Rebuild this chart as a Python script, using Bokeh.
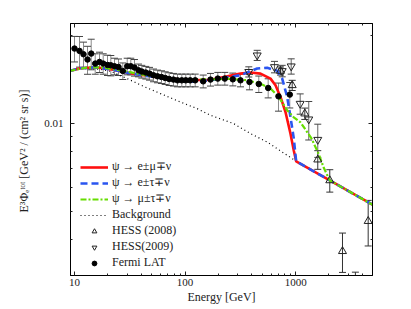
from bokeh.plotting import figure
from bokeh.models import (FixedTicker, LogAxis, Whisker, TeeHead, ColumnDataSource,
                          Legend, LegendItem, BasicTickFormatter)
from bokeh.embed import file_html
from bokeh.resources import INLINE

# ---------------- data ----------------
fermi_E = [10.0, 11.1, 12.06, 13.11, 14.16, 15.39, 16.83, 18.18, 19.88, 21.29, 23.0, 25.0,
           27.33, 29.96, 32.28, 34.86, 37.91, 40.6, 44.13, 47.66, 51.8, 56.3, 61.2, 66.1,
           71.8, 78.5, 85.4, 93.4, 101.5, 111.2, 123.4, 145.8, 169.7, 197.6, 228.6, 270.0,
           316.9, 382.2, 463.8, 564.1, 699.1, 884.6]
fermi_F = [0.01798, 0.01765, 0.01719, 0.01649, 0.01728, 0.01597, 0.01618, 0.01597, 0.01580,
           0.01576, 0.01564, 0.01555, 0.01507, 0.01564, 0.01564, 0.01548, 0.01515, 0.01500,
           0.01488, 0.01476, 0.01457, 0.01445, 0.01437, 0.01426, 0.01415, 0.01408, 0.01400,
           0.01400, 0.01400, 0.01400, 0.01400, 0.01389, 0.01408, 0.01419, 0.01419, 0.01411,
           0.01400, 0.01382, 0.01360, 0.01318, 0.01234, 0.01251]
fermi_err = [0.00180, 0.00212, 0.00172, 0.00181, 0.00207, 0.00128, 0.00129, 0.00128, 0.00126,
             0.00126, 0.00102, 0.00101, 0.00098, 0.00102, 0.00102, 0.00101, 0.00076, 0.00075,
             0.00074, 0.00074, 0.00073, 0.00072, 0.00072, 0.00071, 0.00071, 0.00070, 0.00070,
             0.00070, 0.00070, 0.00070, 0.00070, 0.00070, 0.00070, 0.00071, 0.00071, 0.00071,
             0.00070, 0.00083, 0.00088, 0.00099, 0.00136, 0.00125]

hess08_E = [728.8, 929.8, 1209, 1584, 2034, 2650, 3467, 4524]
hess08_F = [0.01507, 0.01346, 0.01077, 0.007495, 0.006364, 0.003644, 0.0022, 0.004618]
hess08_err = [0.00048, 0.00054, 0.00048, 0.00055, 0.00056, 0.00056, 0.00089, 0.00082]

hess09_E = [376.7, 448.7, 643.3, 755.1, 910.7, 1098, 1313, 1584]
hess09_F = [0.01497, 0.01705, 0.01555, 0.01507, 0.01564, 0.01165, 0.0103, 0.00877]
hess09_err = [0.0006, 0.00068, 0.0007, 0.00068, 0.00094, 0.00093, 0.00155, 0.00114]

bg_E = [9.0, 11.33, 13.95, 17.18, 21.16, 29.96, 42.06, 59.93, 87.2, 128.7, 169.7, 275.6,
        390.2, 552.5, 1010, 2034, 5000]
bg_F = [0.01503, 0.01533, 0.01536, 0.01527, 0.01503, 0.01419, 0.01335, 0.01261, 0.01187,
        0.0112, 0.01063, 0.00995, 0.0092, 0.00861, 0.0074, 0.006364, 0.005246]

emu_E = [9.0, 11.33, 15.48, 21.16, 32.08, 59.93, 111.9, 169.7, 223.9, 316.9, 390.2, 480.6,
         591.7, 656.9, 728.8, 808.8, 897.5, 961, 1010, 2034, 5000]
emu_F = [0.01507, 0.01539, 0.01551, 0.01527, 0.0148, 0.01428, 0.0140, 0.01406, 0.01437,
         0.01476, 0.01488, 0.01476, 0.01419, 0.01346, 0.01228, 0.01091, 0.0092, 0.00806,
         0.0074, 0.006364, 0.005246]

etau_E = [9.0, 11.33, 15.48, 21.16, 32.08, 59.93, 111.9, 169.7, 257.4, 316.9, 448.7, 552.5,
          680.1, 755.1, 837.6, 897.5, 961, 1010, 2034, 5000]
etau_F = [0.01507, 0.01539, 0.01551, 0.01527, 0.0148, 0.01425, 0.01384, 0.0140, 0.01439,
          0.01457, 0.01536, 0.01546, 0.01509, 0.01419, 0.01228, 0.01048, 0.00886, 0.0074,
          0.006364, 0.005246]

mutau_E = [9.0, 12.58, 17.18, 26.06, 48.67, 90.87, 169.7, 257.4, 364.3, 480.6, 591.7, 703.5,
           837.6, 961, 1105, 1389, 1607, 1803, 2034, 5000]
mutau_F = [0.01507, 0.01546, 0.01551, 0.01515, 0.01445, 0.01406, 0.01411, 0.01417, 0.0140,
           0.01364, 0.01312, 0.01228, 0.01105, 0.01046, 0.01006, 0.00886, 0.00787, 0.0070,
           0.006364, 0.005246]

x_major = [10, 100, 1000]
y_major = [0.01]

# ---------------- figure ----------------
FONT = "Liberation Serif"
p = figure(width=411, height=309, x_axis_type="log", y_axis_type="log",
           x_range=(9.2, 4950), y_range=(0.00301, 0.0219),
           output_backend="svg", toolbar_location=None,
           min_border_left=70, min_border_right=39, min_border_top=23, min_border_bottom=34)
p.background_fill_color = "white"
p.border_fill_color = "white"
p.outline_line_color = "black"
p.grid.visible = False

x_minor = [v * m for v in (1, 10, 100, 1000) for m in range(2, 10)]
y_minor = [0.003, 0.004, 0.005, 0.006, 0.007, 0.008, 0.009, 0.02]


def style_axis(ax, labels=True):
    ax.axis_line_color = "black"
    ax.axis_line_width = 1
    ax.major_tick_in = 4
    ax.major_tick_out = 0
    ax.minor_tick_in = 2
    ax.minor_tick_out = 0
    ax.major_tick_line_color = "#222222"
    ax.minor_tick_line_color = "#222222"
    if labels:
        ax.major_label_text_font = FONT
        ax.major_label_text_font_size = "11px"
        ax.major_label_text_color = "#222222"
        ax.axis_label_text_font = FONT
        ax.axis_label_text_font_size = "12px"
        ax.axis_label_text_font_style = "normal"
        ax.axis_label_text_color = "#222222"
    else:
        ax.major_label_text_alpha = 0
        ax.major_label_text_font_size = "1px"
        ax.major_label_standoff = 0


p.xaxis.ticker = FixedTicker(ticks=x_major, minor_ticks=x_minor)
p.yaxis.ticker = FixedTicker(ticks=y_major, minor_ticks=y_minor)
p.xaxis.formatter = BasicTickFormatter(use_scientific=False)
p.yaxis.formatter = BasicTickFormatter(use_scientific=False)
style_axis(p.xaxis[0])
style_axis(p.yaxis[0])
p.xaxis.axis_label = "Energy [GeV]"
p.xaxis.major_label_standoff = 3
p.xaxis.axis_label_standoff = 1
p.yaxis.axis_label = "E³Φₑᵗᵒᵗ  [GeV² / (cm² sr s)]"
p.yaxis.major_label_standoff = 7
p.yaxis.axis_label_standoff = 10

top = LogAxis(ticker=FixedTicker(ticks=x_major, minor_ticks=x_minor))
right = LogAxis(ticker=FixedTicker(ticks=y_major, minor_ticks=y_minor))
style_axis(top, labels=False)
style_axis(right, labels=False)
p.add_layout(top, "above")
p.add_layout(right, "right")

# ---------------- curves ----------------
r_bg = p.line(bg_E, bg_F, line_color="black", line_width=1.2, line_dash="1 3")
r_emu = p.line(emu_E, emu_F, line_color="#ff1010", line_width=2.6)
r_etau = p.line(etau_E, etau_F, line_color="#2a55f0", line_width=2.6, line_dash="7 4")
r_mutau = p.line(mutau_E, mutau_F, line_color="#66dd00", line_width=2.2, line_dash="6 2 2 2")


# ---------------- data points ----------------
def add_err(E, F, err, line_color, head_color):
    src = ColumnDataSource(dict(x=E, lo=[f - e for f, e in zip(F, err)],
                                hi=[f + e for f, e in zip(F, err)]))
    w = Whisker(base="x", lower="lo", upper="hi", source=src, line_color=line_color,
                line_width=1,
                upper_head=TeeHead(size=7, line_color=head_color, line_width=1),
                lower_head=TeeHead(size=7, line_color=head_color, line_width=1))
    p.add_layout(w)


add_err(fermi_E, fermi_F, fermi_err, "#8a8a8a", "#444444")
add_err(hess08_E, hess08_F, hess08_err, "#333333", "#333333")
add_err(hess09_E, hess09_F, hess09_err, "#666666", "#444444")

r_h08 = p.scatter(hess08_E, hess08_F, marker="triangle", size=8, fill_color="white",
                  fill_alpha=0.0, line_color="#222222", line_width=1)
r_h09 = p.scatter(hess09_E, hess09_F, marker="inverted_triangle", size=8, fill_color="white",
                  fill_alpha=0.0, line_color="#222222", line_width=1)
r_fermi = p.scatter(fermi_E, fermi_F, marker="circle", size=5.5, fill_color="black",
                    line_color="black")

legend = Legend(items=[
    LegendItem(label="ψ → e±μ∓ν", renderers=[r_emu]),
    LegendItem(label="ψ → e±τ∓ν", renderers=[r_etau]),
    LegendItem(label="ψ → μ±τ∓ν", renderers=[r_mutau]),
    LegendItem(label="Background", renderers=[r_bg]),
    LegendItem(label="HESS (2008)", renderers=[r_h08]),
    LegendItem(label="HESS(2009)", renderers=[r_h09]),
    LegendItem(label="Fermi LAT", renderers=[r_fermi]),
], location=(10, 5))
legend.background_fill_alpha = 0
legend.border_line_color = None
legend.padding = 0
legend.margin = 0
legend.spacing = 1
legend.glyph_width = 28
legend.glyph_height = 12
legend.label_height = 12
legend.label_standoff = 4
legend.label_text_font = FONT
legend.label_text_font_size = "12px"
legend.label_text_color = "#222222"
p.add_layout(legend, "center")

open("out.html", "w").write(file_html(p, INLINE))
